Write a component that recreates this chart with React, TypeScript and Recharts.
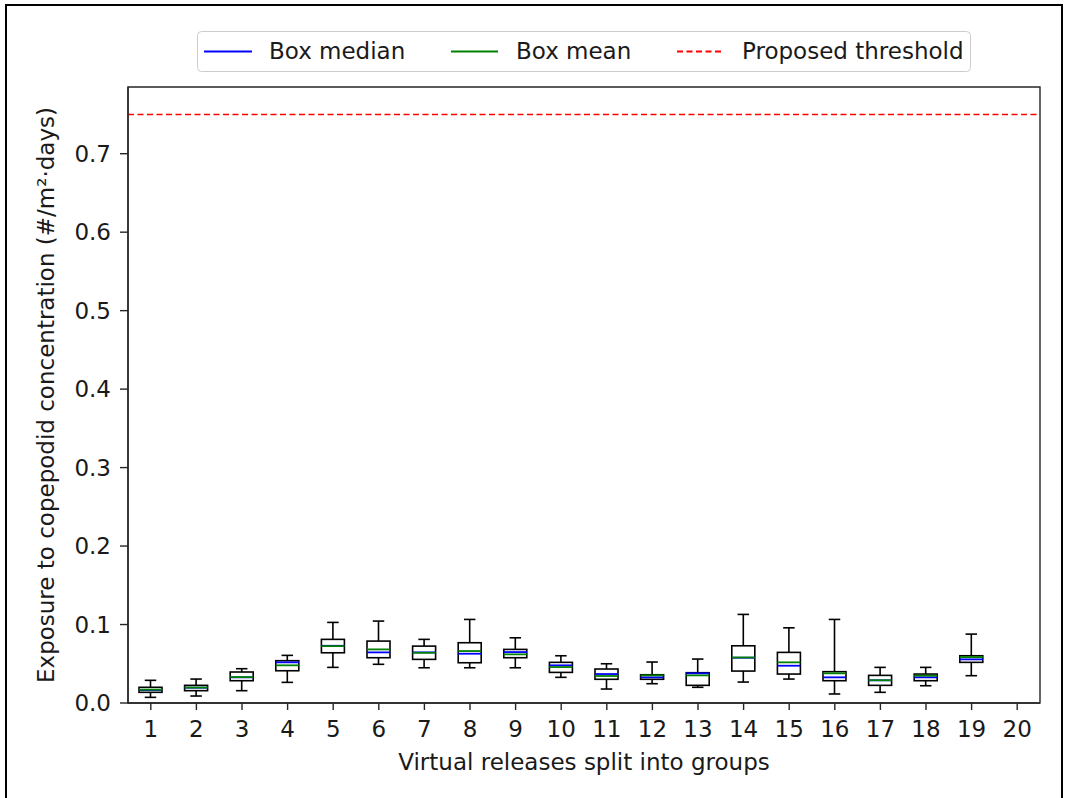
import React from 'react';
import { ComposedChart, Bar, XAxis, YAxis, ReferenceLine, ReferenceArea } from 'recharts';

// Release groups on the x axis
const groups = ['1', '2', '3', '4', '5', '6', '7', '8', '9', '10', '11', '12', '13', '14', '15', '16', '17', '18', '19', '20'];

// Box-plot statistics per group (#/m²·days); group 20 has no data
const whiskerLow = [0.0072, 0.0089, 0.0157, 0.0263, 0.0454, 0.0493, 0.0449, 0.0449, 0.0449, 0.0327, 0.0178, 0.0246, 0.02, 0.0267, 0.0305, 0.0115, 0.0136, 0.022, 0.0348, null];
const q1 = [0.0136, 0.0157, 0.0284, 0.0411, 0.064, 0.0577, 0.0556, 0.0513, 0.0577, 0.039, 0.0302, 0.0302, 0.0225, 0.0407, 0.0369, 0.0284, 0.0225, 0.0284, 0.0518, null];
const median = [0.0165, 0.0195, 0.0327, 0.0518, 0.0729, 0.0645, 0.0645, 0.0628, 0.0649, 0.048, 0.0369, 0.0327, 0.0378, 0.0577, 0.0475, 0.0327, 0.0289, 0.0327, 0.0556, null];
const mean = [0.017, 0.0197, 0.033, 0.048, 0.0725, 0.0683, 0.064, 0.0662, 0.062, 0.0458, 0.0344, 0.0352, 0.0352, 0.058, 0.0518, 0.0378, 0.029, 0.0348, 0.0585, null];
const q3 = [0.02, 0.0225, 0.0395, 0.0539, 0.0811, 0.0789, 0.0725, 0.0768, 0.0683, 0.0518, 0.0433, 0.036, 0.0386, 0.0729, 0.0645, 0.0399, 0.0352, 0.0369, 0.0602, null];
const whiskerHigh = [0.0289, 0.0305, 0.0437, 0.0607, 0.1027, 0.1044, 0.0811, 0.1065, 0.0831, 0.0602, 0.05, 0.0522, 0.056, 0.1129, 0.0958, 0.1065, 0.0454, 0.0454, 0.0878, null];

const threshold = 0.75;
const yMax = 0.785;
const yTicks = [0, 0.1, 0.2, 0.3, 0.4, 0.5, 0.6, 0.7];

const data = groups.map((g, i) => ({
  group: g,
  range: whiskerLow[i] == null ? null : [whiskerLow[i], whiskerHigh[i]],
  lo: whiskerLow[i],
  q1: q1[i],
  median: median[i],
  mean: mean[i],
  q3: q3[i],
  hi: whiskerHigh[i],
}));

const FONT = '"DejaVu Sans", sans-serif';
const FS = 23;
const TEXT = '#1a1a1a';
const AXIS = '#262626';

// Draws one box plot inside the pixel span the bar gives for [lo, hi]
const BoxShape = (props: any) => {
  const { x, y, width, height, payload } = props;
  if (!payload || payload.hi == null || payload.lo == null) return null;
  const { lo, hi } = payload;
  const toPx = (v: number) => y + (height * (hi - v)) / (hi - lo);
  const cx = x + width / 2;
  const half = width / 2;
  const cap = width / 4;
  const yHi = toPx(hi);
  const yLo = toPx(lo);
  const yQ3 = toPx(payload.q3);
  const yQ1 = toPx(payload.q1);
  const yMed = toPx(payload.median);
  const yMean = toPx(payload.mean);
  const s = { stroke: '#000', strokeWidth: 1.6 };
  return (
    <g>
      <line x1={cx} x2={cx} y1={yHi} y2={yQ3} {...s} />
      <line x1={cx} x2={cx} y1={yQ1} y2={yLo} {...s} />
      <line x1={cx - cap} x2={cx + cap} y1={yHi} y2={yHi} {...s} />
      <line x1={cx - cap} x2={cx + cap} y1={yLo} y2={yLo} {...s} />
      <rect x={cx - half} y={yQ3} width={width} height={Math.max(yQ1 - yQ3, 0.5)} fill="#fff" {...s} />
      <line x1={cx - half} x2={cx + half} y1={yMed} y2={yMed} stroke="#0000ff" strokeWidth={1.8} />
      <line x1={cx - half} x2={cx + half} y1={yMean} y2={yMean} stroke="#008000" strokeWidth={1.8} />
    </g>
  );
};

const Legend = () => (
  <svg width={1067} height={90} style={{ position: 'absolute', left: 0, top: 0 }}>
    <rect x={197.5} y={31.5} width={773} height={40} rx={4} fill="#fff" stroke="#cccccc" strokeWidth={1} />
    <line x1={204} x2={252} y1={51.5} y2={51.5} stroke="#0000ff" strokeWidth={1.8} />
    <text x={269} y={59} fontFamily={FONT} fontSize={FS} fill={TEXT}>Box median</text>
    <line x1={451} x2={498} y1={51.5} y2={51.5} stroke="#008000" strokeWidth={1.8} />
    <text x={516} y={59} fontFamily={FONT} fontSize={FS} fill={TEXT}>Box mean</text>
    <line x1={677} x2={723} y1={51.5} y2={51.5} stroke="#ff0000" strokeWidth={1.8} strokeDasharray="6 3.5" />
    <text x={742} y={59} fontFamily={FONT} fontSize={FS} fill={TEXT}>Proposed threshold</text>
  </svg>
);

export default function App() {
  return (
    <div style={{ position: 'absolute', left: 0, top: 0, width: 1067, height: 798, background: '#fff', overflow: 'hidden' }}>
      <div style={{ position: 'absolute', left: 5, top: 4, width: 1058, height: 820, border: '2px solid #000', boxSizing: 'border-box' }} />
      <div style={{ position: 'absolute', left: 0, top: 0 }}>
        <ComposedChart width={1067} height={798} data={data} margin={{ top: 87, right: 27, bottom: 0, left: 0 }}>
          <XAxis
            dataKey="group"
            type="category"
            interval={0}
            height={95}
            axisLine={{ stroke: AXIS, strokeWidth: 1.4 }}
            tickLine={{ stroke: AXIS, strokeWidth: 1.4 }}
            tickSize={7}
            tickMargin={11}
            tick={{ fontFamily: FONT, fontSize: FS, fill: TEXT }}
            label={{
              content: (p: any) => {
                const vb = p.viewBox;
                return (
                  <text x={vb.x + vb.width / 2} y={vb.y + 67} textAnchor="middle" fontFamily={FONT} fontSize={FS} fill={TEXT}>
                    Virtual releases split into groups
                  </text>
                );
              },
            }}
          />
          <YAxis
            type="number"
            domain={[0, yMax]}
            allowDataOverflow
            ticks={yTicks}
            tickFormatter={(v: number) => v.toFixed(1)}
            width={128}
            axisLine={{ stroke: AXIS, strokeWidth: 1.4 }}
            tickLine={{ stroke: AXIS, strokeWidth: 1.4 }}
            tickSize={8}
            tickMargin={9}
            tick={{ fontFamily: FONT, fontSize: FS, fill: TEXT }}
            label={{
              content: (p: any) => {
                const vb = p.viewBox;
                const cx = vb.x + 46;
                const cy = vb.y + vb.height / 2;
                return (
                  <text x={cx} y={cy} transform={`rotate(-90 ${cx} ${cy})`} textAnchor="middle" dominantBaseline="central" fontFamily={FONT} fontSize={FS} fill={TEXT}>
                    Exposure to copepodid concentration (#/m²·days)
                  </text>
                );
              },
            }}
          />
          {/* full frame around the plot area */}
          <ReferenceArea y1={0} y2={yMax} fill="none" stroke={AXIS} strokeWidth={1.4} ifOverflow="visible" />
          <ReferenceLine y={threshold} stroke="#ff0000" strokeWidth={1.6} strokeDasharray="6 3.5" />
          <Bar dataKey="range" barSize={23} shape={BoxShape} isAnimationActive={false} />
        </ComposedChart>
      </div>
      <Legend />
    </div>
  );
}
